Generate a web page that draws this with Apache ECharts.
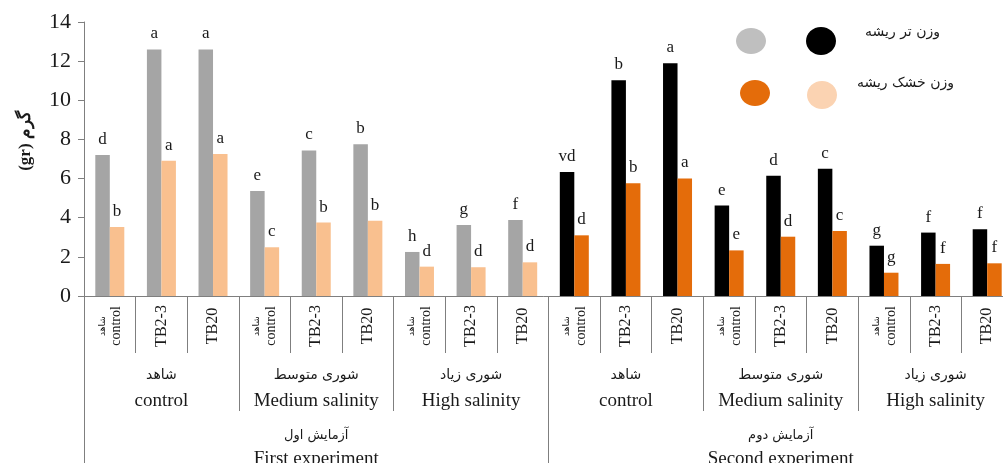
<!DOCTYPE html>
<html>
<head>
<meta charset="utf-8">
<script src="https://cdn.jsdelivr.net/npm/echarts@6/dist/echarts.min.js"></script>
<style>
  html, body { margin: 0; padding: 0; background: #fff; }
  #chart { width: 1003px; height: 463px; }
</style>
</head>
<body>
<div id="chart"></div>
<script>
// Treatments (3 per salinity level, 3 salinity levels, 2 experiments)
const treatments = ['control', 'TB2-3', 'TB20', 'control', 'TB2-3', 'TB20', 'control', 'TB2-3', 'TB20',
                    'control', 'TB2-3', 'TB20', 'control', 'TB2-3', 'TB20', 'control', 'TB2-3', 'TB20'];
const salinityFa = ['شاهد', 'شوری متوسط', 'شوری زیاد', 'شاهد', 'شوری متوسط', 'شوری زیاد'];
const salinityEn = ['control', 'Medium salinity', 'High salinity', 'control', 'Medium salinity', 'High salinity'];
const experimentFa = ['آزمایش اول', 'آزمایش دوم'];
const experimentEn = ['First experiment', 'Second experiment'];

// Root fresh weight and root dry weight (g)
const freshWeight = [7.2, 12.6, 12.6, 5.37, 7.44, 7.75, 2.25, 3.63, 3.88,
                     6.34, 11.02, 11.89, 4.62, 6.15, 6.5, 2.57, 3.24, 3.41];
const dryWeight = [3.53, 6.91, 7.26, 2.49, 3.75, 3.85, 1.5, 1.47, 1.72,
                   3.1, 5.76, 6.01, 2.33, 3.03, 3.32, 1.19, 1.64, 1.67];

// Mean-comparison letters
const freshLetters = ['d', 'a', 'a', 'e', 'c', 'b', 'h', 'g', 'f', 'vd', 'b', 'a', 'e', 'd', 'c', 'g', 'f', 'f'];
const dryLetters = ['b', 'a', 'a', 'c', 'b', 'b', 'd', 'd', 'd', 'd', 'b', 'a', 'e', 'd', 'c', 'g', 'f', 'f'];

const yTicks = { min: 0, max: 14, interval: 2 };

const SERIF = "'Liberation Serif', 'Times New Roman', serif";
const FA = "'DejaVu Sans', sans-serif";
const AXIS_GRAY = '#7f7f7f';
const TEXT = '#1a1a1a';
const colors = {
  fresh: ['#a5a5a5', '#000000'],
  dry: ['#f9c08f', '#e46c0a']
};
const perExp = treatments.length / experimentEn.length;

const chart = echarts.init(document.getElementById('chart'), null, { renderer: 'canvas' });

function letterLabel(letters) {
  return {
    show: true,
    position: 'top',
    distance: 7,
    fontFamily: SERIF,
    fontSize: 17,
    color: TEXT,
    formatter: p => letters[p.dataIndex]
  };
}

chart.setOption({
  animation: false,
  backgroundColor: '#fff',
  grid: { left: 84, right: -10, top: 22, bottom: 167, containLabel: false, outerBoundsMode: 'none' },
  xAxis: [
    {
      type: 'category',
      data: treatments,
      axisLine: { show: true, lineStyle: { color: AXIS_GRAY, width: 1 } },
      axisTick: { show: true, interval: 0, length: 57, lineStyle: { color: AXIS_GRAY } },
      axisLabel: {
        interval: 0,
        rotate: 90,
        align: 'center',
        verticalAlign: 'middle',
        margin: 30,
        fontFamily: SERIF,
        fontSize: 16,
        color: TEXT,
        formatter: v => v === 'control' ? '{s|شاهد}\n{c|control}' : v,
        rich: {
          s: { fontFamily: FA, fontSize: 9, lineHeight: 14, color: TEXT },
          c: { fontFamily: SERIF, fontSize: 14, lineHeight: 15, color: TEXT }
        }
      }
    },
    {
      type: 'category',
      position: 'bottom',
      data: salinityEn.map((_, i) => i),
      axisLine: { show: false },
      axisTick: { show: true, interval: 0, length: 115, lineStyle: { color: AXIS_GRAY } },
      axisLabel: {
        interval: 0,
        margin: 66,
        formatter: v => '{p|' + salinityFa[v] + '}\n{e|' + salinityEn[v] + '}',
        rich: {
          p: { fontFamily: FA, fontSize: 14, lineHeight: 26, color: TEXT },
          e: { fontFamily: SERIF, fontSize: 19, lineHeight: 26, color: TEXT }
        }
      }
    },
    {
      type: 'category',
      position: 'bottom',
      data: experimentEn.map((_, i) => i),
      axisLine: { show: false },
      axisTick: { show: true, interval: 0, length: 175, lineStyle: { color: AXIS_GRAY } },
      axisLabel: {
        interval: 0,
        margin: 129,
        formatter: v => '{p|' + experimentFa[v] + '}\n{e|' + experimentEn[v] + '}',
        rich: {
          p: { fontFamily: FA, fontSize: 13, lineHeight: 22, color: TEXT },
          e: { fontFamily: SERIF, fontSize: 19, lineHeight: 24, color: TEXT }
        }
      }
    }
  ],
  yAxis: {
    type: 'value',
    min: yTicks.min,
    max: yTicks.max,
    interval: yTicks.interval,
    name: '(gr) گرم',
    nameLocation: 'middle',
    nameRotate: 90,
    nameGap: 50,
    nameTextStyle: {
      fontFamily: SERIF,
      fontSize: 17,
      fontWeight: 'bold',
      color: TEXT,
      padding: [0, 0, 0, 36]
    },
    axisLine: { show: true, lineStyle: { color: AXIS_GRAY, width: 1 } },
    axisTick: { show: true, length: 6, lineStyle: { color: AXIS_GRAY } },
    axisLabel: { fontFamily: SERIF, fontSize: 22, color: TEXT, margin: 13 },
    splitLine: { show: false }
  },
  series: [
    {
      name: 'وزن تر ریشه',
      type: 'bar',
      xAxisIndex: 0,
      data: freshWeight,
      barWidth: 14.5,
      barGap: '0%',
      itemStyle: { color: p => colors.fresh[Math.floor(p.dataIndex / perExp)] },
      label: letterLabel(freshLetters)
    },
    {
      name: 'وزن خشک ریشه',
      type: 'bar',
      xAxisIndex: 0,
      data: dryWeight,
      barWidth: 14.5,
      barGap: '0%',
      itemStyle: { color: p => colors.dry[Math.floor(p.dataIndex / perExp)] },
      label: letterLabel(dryLetters)
    }
  ],
  graphic: [
    { type: 'ellipse', shape: { cx: 751, cy: 41, rx: 15, ry: 13 }, style: { fill: '#bfbfbf' } },
    { type: 'ellipse', shape: { cx: 821, cy: 41, rx: 15, ry: 14 }, style: { fill: '#000000' } },
    { type: 'ellipse', shape: { cx: 755, cy: 93, rx: 15, ry: 13 }, style: { fill: '#e46c0a' } },
    { type: 'ellipse', shape: { cx: 822, cy: 95, rx: 15, ry: 14 }, style: { fill: '#fbd3b2' } },
    {
      type: 'text', x: 940, y: 32,
      style: { text: 'وزن تر ریشه', fontFamily: FA, fontSize: 14, fill: TEXT, align: 'right', verticalAlign: 'middle' }
    },
    {
      type: 'text', x: 954, y: 83,
      style: { text: 'وزن خشک ریشه', fontFamily: FA, fontSize: 14, fill: TEXT, align: 'right', verticalAlign: 'middle' }
    }
  ]
});
</script>
</body>
</html>
